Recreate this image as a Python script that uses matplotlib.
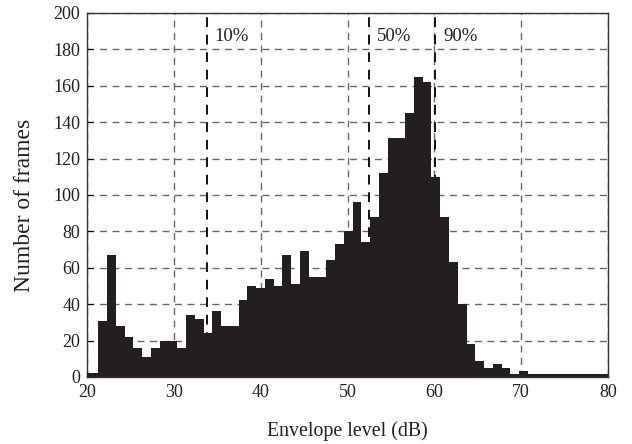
import numpy as np
import matplotlib.pyplot as plt

# histogram of envelope level (dB), uniform bins
bin_start = 19.26
bin_width = 1.01
counts = [2, 2, 31, 67, 28, 22, 16, 11, 16, 20, 20, 16, 34, 32, 24, 36, 28, 28,
          42, 50, 49, 54, 50, 67, 51, 69, 55, 55, 64, 73, 80, 96, 74, 88, 112,
          131, 131, 145, 165, 162, 110, 88, 63, 40, 18, 9, 5, 7, 5, 1.5, 3.5,
          1.5, 1.5, 1.5, 1.5, 1.5, 1.5, 1.5, 1.5, 1.5, 1.5]

# percentile markers
pct_labels = ['10%', '50%', '90%']
pct_levels = [33.75, 52.45, 60.05]
pct_text_x = [34.6, 53.4, 61.0]

xticks = [20, 30, 40, 50, 60, 70, 80]
yticks = list(range(0, 201, 20))

plt.rcParams['font.family'] = ['Liberation Serif', 'DejaVu Serif']
plt.rcParams['font.size'] = 13

fig = plt.figure(figsize=(6.32, 4.44), dpi=100)
ax = fig.add_axes([0.138, 0.151, 0.824, 0.820])

edges = bin_start + bin_width * np.arange(len(counts) + 1)
ax.stairs(counts, edges, fill=True, color='#231f20', zorder=3)

for lvl, lab, tx in zip(pct_levels, pct_labels, pct_text_x):
    ax.axvline(lvl, color='#111111', ls=(0, (5, 4)), lw=1.4, zorder=2)
    ax.text(tx, 187, lab, ha='left', va='center', fontsize=13.5, color='#231f20')

ax.set_xlim(20, 80)
ax.set_ylim(0, 200)
ax.set_xticks(xticks)
ax.set_yticks(yticks)
ax.grid(True, color='#666666', ls=(0, (5, 4)), lw=1.0, zorder=1)
ax.set_axisbelow(True)
ax.tick_params(direction='in', length=4, width=0.8, labelsize=13,
               labelcolor='#231f20', pad=5)
for sp in ax.spines.values():
    sp.set_color('#333333')
    sp.set_linewidth(1.0)

ax.set_xlabel('Envelope level (dB)', fontsize=14.3, color='#231f20', labelpad=15)
ax.set_ylabel('Number of frames', fontsize=17, color='#231f20', labelpad=13)
ax.yaxis.label.set_y(0.47)

fig.savefig('out.png', dpi=100)
